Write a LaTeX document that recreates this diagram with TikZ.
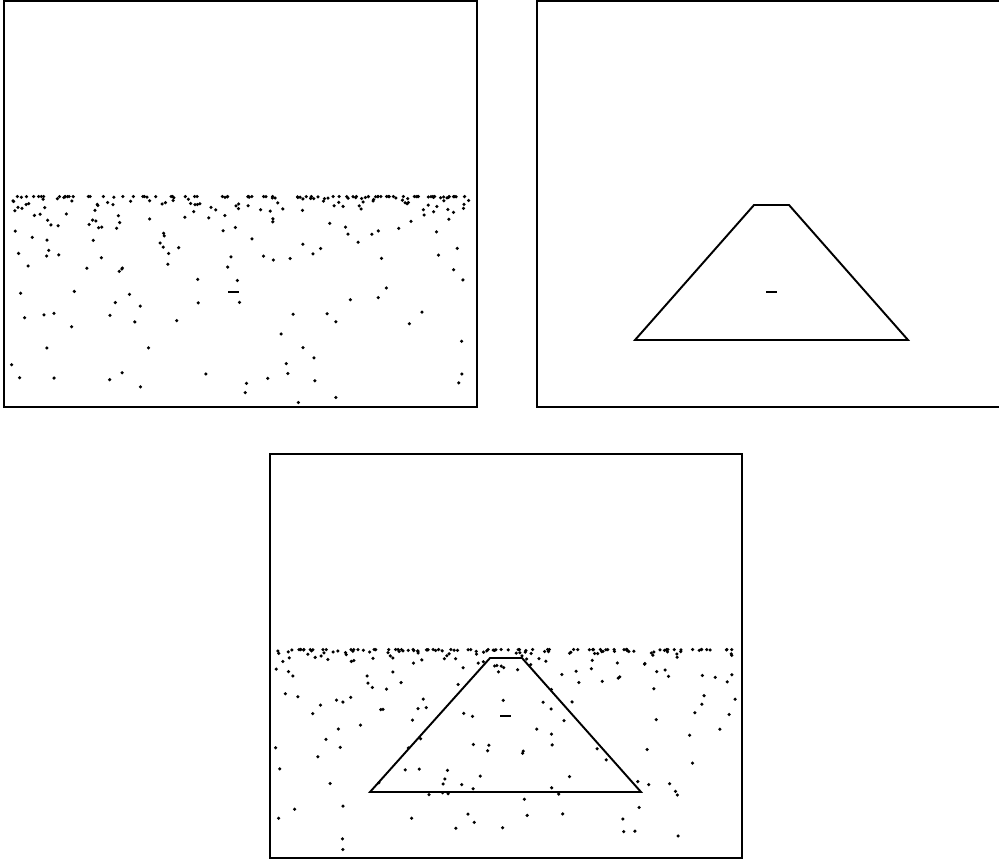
\documentclass[tikz,border=0pt]{standalone}
\usetikzlibrary{calc}

% two small congruential generators, one for across and one for depth
\def\seedx{17}\def\seedy{29}
\newcommand{\stepseeds}{%
  \xdef\seedx{\the\numexpr \seedx*421+1663-((\seedx*421+1663-3937)/7875)*7875\relax}%
  \xdef\seedy{\the\numexpr \seedy*936+1399-((\seedy*936+1399-3327)/6655)*6655\relax}}

% scattered ground dots: left, right, horizon, bottom, count
\newcommand{\grounddots}[5]{%
  \foreach \i in {1,...,#5}{
    \stepseeds
    \pgfmathsetmacro{\fx}{\seedx/7875}
    \pgfmathsetmacro{\fy}{\seedy/6655}
    \pgfmathsetmacro{\dx}{#1+4+(#2-#1-8)*\fx}
    \pgfmathsetmacro{\dy}{#3+1.5+(#4-#3-5)*pow(\fy,4.3)}
    \fill (\dx,\dy) circle[radius=1pt];
  }}

\begin{document}
\begin{tikzpicture}[x=0.02cm, y=-0.02cm,
  frame/.style={line width=1.1pt},
  outline/.style={line width=1.1pt, line join=miter},
  fixmark/.style={line width=1.2pt}]
\useasboundingbox (0,0) rectangle (999,859);

% ground texture alone
\grounddots{4}{477}{195}{407}{270}
\draw[frame] (4,1) rectangle (477,407);
\draw[fixmark] (228,292) -- (239,292);

% object alone
\draw[frame] (1001,1) -- (537,1) -- (537,407) -- (1001,407);
\draw[outline] (635,340) -- (754,205) -- (789,205) -- (908,340) -- cycle;
\draw[fixmark] (766,292) -- (777,292);

% both together
\grounddots{270}{742}{648}{858}{270}
\draw[frame] (270,454) rectangle (742,858);
\draw[outline] (370,792) -- (490,658) -- (522,658) -- (641,792) -- cycle;
\draw[fixmark] (500,716) -- (511,716);
\end{tikzpicture}
\end{document}
